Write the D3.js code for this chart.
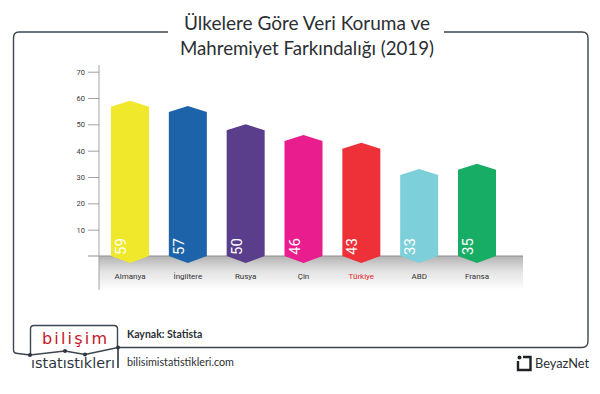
<!DOCTYPE html>
<html><head><meta charset="utf-8">
<script src="https://cdn.jsdelivr.net/npm/d3@7"></script>
<style>html,body{margin:0;padding:0;background:#fff;}svg{display:block;}</style>
</head><body>
<svg id="chart" width="600" height="394"></svg>
<script>
const categories = ["Almanya","İngiltere","Rusya","Çin","Türkiye","ABD","Fransa"];
const values = [59,57,50,46,43,33,35];
const barColors = ["#f0e82a","#1d63a9","#5a3d8b","#e91d8d","#ee3138","#7dcfd9","#17ad65"];
const yTicks = [10,20,30,40,50,60,70];
const titleLines = ["Ülkelere Göre Veri Koruma ve","Mahremiyet Farkındalığı (2019)"];
const sourceText = "Kaynak: Statista";
const siteText = "bilisimistatistikleri.com";

const svg = d3.select("#chart");

// frame
const frame = d3.path();
frame.moveTo(168, 32);
frame.lineTo(19, 32);
frame.quadraticCurveTo(13.5, 32, 13.5, 38);
frame.lineTo(13.5, 350);
frame.quadraticCurveTo(13.5, 353.5, 18, 353.5);
frame.lineTo(30, 355);
frame.lineTo(65, 351);
frame.lineTo(85, 354.5);
frame.lineTo(118, 347.5);
frame.lineTo(582, 347.5);
frame.quadraticCurveTo(588, 347.5, 588, 341);
frame.lineTo(588, 38);
frame.quadraticCurveTo(588, 32, 582, 32);
frame.lineTo(444, 32);
svg.append("path").attr("d", frame.toString()).attr("fill","none")
  .attr("stroke", "#3b4650").attr("stroke-width", 1.4);

// logo box
svg.append("path")
  .attr("d","M30.5,355 L30.5,329 Q30.5,325.5 34,325.5 L114,325.5 Q117.5,325.5 117.5,329 L117.5,347.5")
  .attr("fill","none").attr("stroke","#3b4650").attr("stroke-width",1.4);
[[30,355],[65,351],[85,354.5],[118,347.5]].forEach(p=>{
  svg.append("circle").attr("cx",p[0]).attr("cy",p[1]).attr("r",2).attr("fill","#2d3640");
});
svg.append("line").attr("x1",118).attr("x2",118).attr("y1",347.5).attr("y2",368)
  .attr("stroke","#2d3640").attr("stroke-width",1.6);
svg.append("text").attr("x",42).attr("y",344)
  .attr("font-family","'DejaVu Sans', sans-serif").attr("font-size",16)
  .attr("textLength",65).attr("lengthAdjust","spacing")
  .attr("fill","#c4161f").text("bilişim");
svg.append("text").attr("x",31).attr("y",368)
  .attr("font-family","'DejaVu Sans Condensed','DejaVu Sans',sans-serif").attr("font-size",14)
  .attr("textLength",84).attr("lengthAdjust","spacingAndGlyphs")
  .attr("fill","#2d3640").text("ıstatıstıklerı");

// title
titleLines.forEach((t,i)=>{
  svg.append("text").attr("x", 307).attr("y", i===0 ? 30 : 55)
    .attr("text-anchor","middle")
    .attr("font-family","Lato, 'Noto Sans', sans-serif").attr("font-size",19)
    .attr("textLength", i===0 ? 246 : 254).attr("lengthAdjust","spacingAndGlyphs")
    .attr("fill","#2b2f33").text(t);
});

// scales
const y = d3.scaleLinear().domain([0,70]).range([256,71.7]);
const x = d3.scalePoint().domain(categories).range([130,477]);
const bw = 38;

// gradient below baseline
const defs = svg.append("defs");
const grad = defs.append("linearGradient").attr("id","floor").attr("x1",0).attr("y1",0).attr("x2",0).attr("y2",1);
grad.append("stop").attr("offset","0%").attr("stop-color","#b3b3b3");
grad.append("stop").attr("offset","45%").attr("stop-color","#e3e3e3");
grad.append("stop").attr("offset","100%").attr("stop-color","#ffffff");
svg.append("rect").attr("x",99).attr("y",y(0)).attr("width",424).attr("height",34).attr("fill","url(#floor)");

// axis
const axisG = svg.append("g").attr("transform","translate(99,0)")
  .call(d3.axisLeft(y).tickValues(yTicks).tickSize(11).tickPadding(3));
axisG.select(".domain").remove();
axisG.selectAll(".tick line").attr("stroke","#8a8a8a").attr("stroke-width",0.8);
axisG.selectAll(".tick text").attr("font-family","Roboto, sans-serif").attr("font-size",7.5).attr("fill","#3a3a3a");
svg.append("line").attr("x1",99).attr("x2",99).attr("y1",65).attr("y2",290)
  .attr("stroke","#9a9a9a").attr("stroke-width",0.9);
svg.append("line").attr("x1",88).attr("x2",523).attr("y1",y(0)).attr("y2",y(0))
  .attr("stroke","#8f8f8f").attr("stroke-width",1);

// bars
const bars = svg.append("g");
categories.forEach((c,i)=>{
  const cx = x(c), x0 = cx - bw/2, x1 = cx + bw/2, top = y(values[i]);
  const p = d3.path();
  p.moveTo(x0, top + 6);
  p.lineTo(cx, top);
  p.lineTo(x1, top + 6);
  p.lineTo(x1, y(0));
  p.lineTo(cx, y(0) + 7);
  p.lineTo(x0, y(0));
  p.closePath();
  bars.append("path").attr("d", p.toString()).attr("fill", barColors[i]);
  bars.append("text")
    .attr("transform", `translate(${x0 + 15},${y(0) - 1}) rotate(-90)`)
    .attr("font-family","Roboto, sans-serif").attr("font-size",15)
    .attr("fill","#ffffff").text(values[i]);
  svg.append("text").attr("x", cx).attr("y", 279).attr("text-anchor","middle")
    .attr("font-family","Roboto, sans-serif").attr("font-size",8)
    .attr("fill", c === "Türkiye" ? "#e8262d" : "#333333").text(c);
});

// footer texts
svg.append("text").attr("x",127).attr("y",338)
  .attr("font-family","Lato, sans-serif").attr("font-size",10.5).attr("font-weight",700)
  .attr("fill","#2b2f33").text(sourceText);
svg.append("text").attr("x",127).attr("y",366)
  .attr("font-family","Lato, sans-serif").attr("font-size",12)
  .attr("textLength",107).attr("lengthAdjust","spacingAndGlyphs")
  .attr("fill","#2b2f33").text(siteText);

// BeyazNet logo
svg.append("circle").attr("cx",519.5).attr("cy",357.5).attr("r",2).attr("fill","#1f2326");
svg.append("path").attr("d","M523,357 L530.5,357 L530.5,370 L518,370 L518,361")
  .attr("fill","none").attr("stroke","#1f2326").attr("stroke-width",2.4);
svg.append("text").attr("x",535).attr("y",368)
  .attr("font-family","Lato, sans-serif").attr("font-size",14)
  .attr("textLength",54).attr("lengthAdjust","spacingAndGlyphs")
  .attr("fill","#2b2f33").text("BeyazNet");
</script>
</body></html>
